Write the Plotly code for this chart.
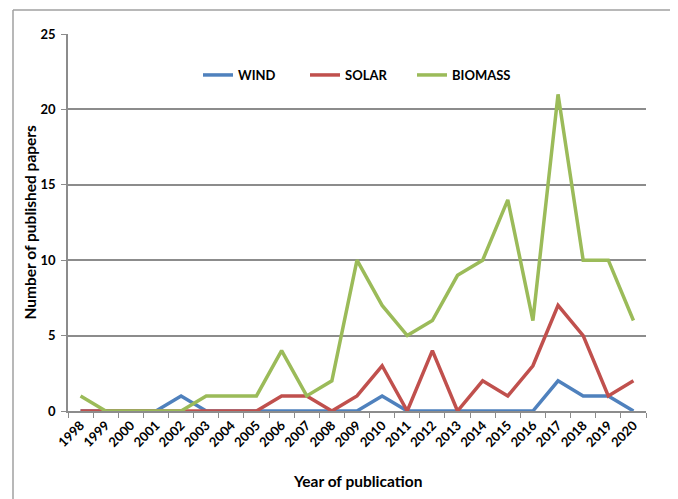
import plotly.graph_objects as go

years = [str(y) for y in range(1998, 2021)]
wind = [0, 0, 0, 0, 1, 0, 0, 0, 0, 0, 0, 0, 1, 0, 0, 0, 0, 0, 0, 2, 1, 1, 0]
solar = [0, 0, 0, 0, 0, 0, 0, 0, 1, 1, 0, 1, 3, 0, 4, 0, 2, 1, 3, 7, 5, 1, 2]
biomass = [1, 0, 0, 0, 0, 1, 1, 1, 4, 1, 2, 10, 7, 5, 6, 9, 10, 14, 6, 21, 10, 10, 6]

# page body has an 8px margin; compensate so the chart lands where the reference has it
OFF = 8
W, H = 678 - OFF, 499 - OFF
L, R, T, B = 68 - OFF, 32, 34 - OFF, 88
pw, ph = W - L - R, H - T - B

def px_x(sx):  # screen x -> paper fraction
    return (sx - OFF - L) / pw

def px_y(sy):  # screen y -> paper fraction
    return (H - B - (sy - OFF)) / ph

fig = go.Figure()
for name, vals, col in [("WIND", wind, "#4F81BD"), ("SOLAR", solar, "#C0504D"), ("BIOMASS", biomass, "#9BBB59")]:
    fig.add_trace(go.Scatter(x=years, y=vals, mode="lines", name=name,
                             line=dict(color=col, width=3.5)))

font = "Lato, 'Open Sans', sans-serif"
fig.update_layout(
    width=W, height=H,
    margin=dict(l=L, r=R, t=T, b=B, autoexpand=False),
    plot_bgcolor="white", paper_bgcolor="white",
    font=dict(family=font, color="black"),
    showlegend=True,
    legend=dict(orientation="h", x=px_x(198), y=px_y(75), xanchor="left", yanchor="middle",
                font=dict(size=13, family=font, weight="bold"), itemwidth=30,
                entrywidth=62, entrywidthmode="pixels",
                bgcolor="rgba(0,0,0,0)", tracegroupgap=0),
    xaxis=dict(type="category", range=[-0.5, 22.5], showline=True, linecolor="#8c8c8c", linewidth=1.5,
               ticks="outside", ticklen=5, tickcolor="#8c8c8c", tickson="boundaries",
               showgrid=False, tickangle=-45, automargin=False,
               tickfont=dict(size=13, family=font, weight="bold")),
    yaxis=dict(range=[0, 25], dtick=5, showline=True, linecolor="#8c8c8c", linewidth=1.5,
               ticks="outside", ticklen=5, tickcolor="#8c8c8c", ticklabelstandoff=3,
               showgrid=True, gridcolor="#8c8c8c", gridwidth=1.5, zeroline=False, automargin=False,
               tickfont=dict(size=13, family=font, weight="bold")),
)

# axis titles
fig.add_annotation(text="Year of publication", xref="paper", yref="paper", x=0.5, y=px_y(481),
                   showarrow=False, xanchor="center", yanchor="middle",
                   font=dict(size=15.5, family=font, weight="bold"))
fig.add_annotation(text="Number of published papers", xref="paper", yref="paper", x=px_x(29), y=0.5,
                   showarrow=False, xanchor="center", yanchor="middle", textangle=-90,
                   font=dict(size=15.5, family=font, weight="bold"))

# outer chart frame (top & left edges visible)
fx0 = px_x(13)
fy1 = px_y(10)
fig.add_shape(type="line", xref="paper", yref="paper", x0=fx0, x1=px_x(700), y0=fy1, y1=fy1,
              line=dict(color="#a0a0a0", width=1.5))
fig.add_shape(type="line", xref="paper", yref="paper", x0=fx0, x1=fx0, y0=fy1, y1=px_y(520),
              line=dict(color="#a0a0a0", width=1.5))

fig.write_html("out.html")
